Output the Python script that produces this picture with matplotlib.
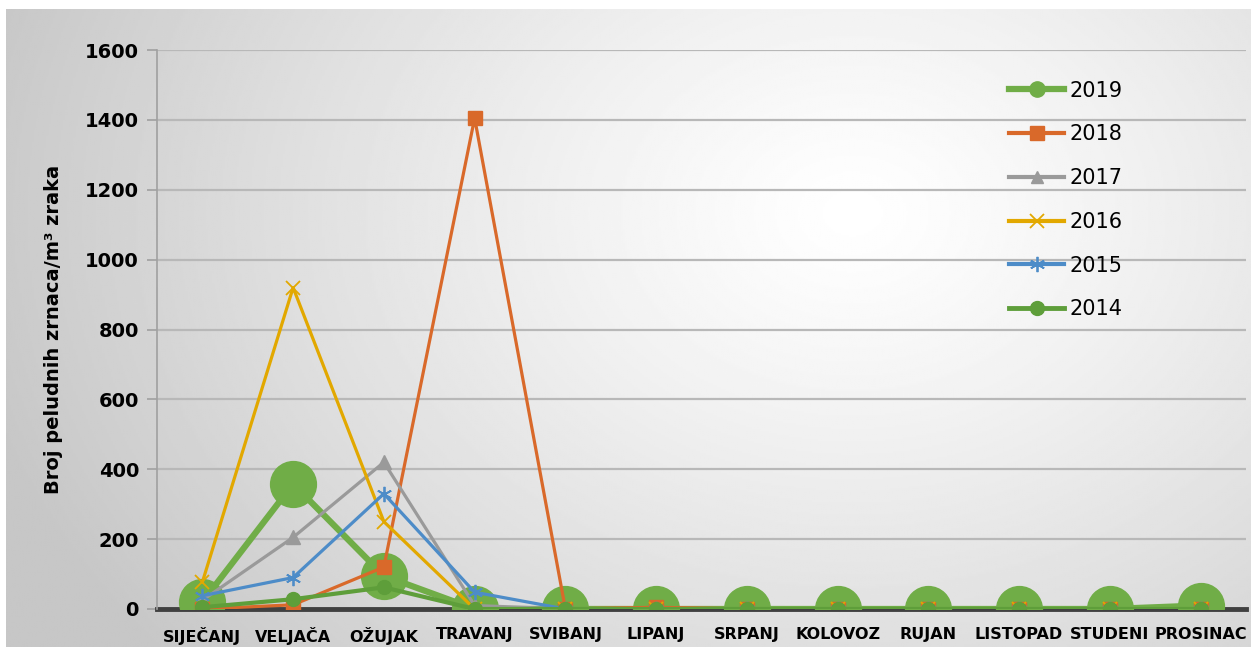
import numpy as np
import matplotlib.pyplot as plt
from matplotlib.lines import Line2D

months = ['SIJEČANJ', 'VELJAČA', 'OŽUJAK', 'TRAVANJ', 'SVIBANJ', 'LIPANJ',
          'SRPANJ', 'KOLOVOZ', 'RUJAN', 'LISTOPAD', 'STUDENI', 'PROSINAC']

y2019 = [20, 358, 95, 0, 0, 0, 0, 0, 0, 0, 0, 10]
y2018 = [0, 12, 120, 1405, 0, 5, 0, 0, 0, 0, 0, 0]
y2017 = [25, 205, 420, 10, 0, 0, 0, 0, 0, 0, 0, 0]
y2016 = [77, 920, 250, 0, 0, 0, 0, 0, 0, 0, 0, 0]
y2015 = [38, 90, 330, 48, 0, 0, 0, 0, 0, 0, 0, 0]
y2014 = [5, 28, 62, 0, 0, 0, 0, 0, 0, 0, 0, 0]

fig = plt.figure(figsize=(12.51, 6.47), dpi=100)
fig.patch.set_facecolor('white')

# radial grey-to-white backdrop
bg = fig.add_axes([6 / 1251, 0, 1 - 6 / 1251, 1 - 9 / 647], zorder=0)
gx, gy = np.meshgrid(np.linspace(0, 1, 600), np.linspace(0, 1, 320))
r = np.sqrt(((gx - 0.68) * 1.5) ** 2 + ((gy - 0.32) * 1.0) ** 2)
shade = np.clip(1.0 - 0.2 * r ** 1.2, 0.78, 1.0)
bg.imshow(shade, cmap='gray', vmin=0, vmax=1, aspect='auto', extent=[0, 1, 1, 0])
bg.axis('off')

ax = fig.add_axes([157 / 1251, 1 - 609 / 647, 1089 / 1251, 559 / 647], zorder=1)
ax.set_facecolor('none')
x = np.arange(len(months))

ax.plot(x, y2019, color='#70AD47', lw=4.5, marker='o', ms=33, zorder=3)
ax.plot(x, y2018, color='#D9692A', lw=2.3, marker='s', ms=10, zorder=4)
ax.plot(x, y2017, color='#9A9A9A', lw=2.3, marker='^', ms=10, zorder=5)
ax.plot(x, y2016, color='#E2A800', lw=2.3, marker='x', ms=10, mew=1.3, zorder=6)
ax.plot(x, y2015, color='#4D8CC8', lw=2.3, marker=(6, 2, 0), ms=11, mew=1.3, zorder=7)
ax.plot(x, y2014, color='#5E9E3A', lw=3, marker='o', ms=10, zorder=8)

ax.set_xlim(-0.5, 11.5)
ax.set_ylim(0, 1600)
ax.set_yticks(range(0, 1601, 200))
ax.set_xticks(x)
ax.set_xticklabels(months, fontsize=11.5, fontweight='bold')
for lbl in ax.get_yticklabels():
    lbl.set_fontsize(14)
    lbl.set_fontweight('bold')
ax.tick_params(axis='x', length=0, pad=13)
ax.tick_params(axis='y', length=7, width=1.2, color='#A0A0A0', pad=6)
ax.grid(axis='y', color='#B8B8B8', lw=1.6)
ax.set_axisbelow(True)
for side in ['top', 'right']:
    ax.spines[side].set_visible(False)
ax.spines['left'].set_color('#A0A0A0')
ax.spines['left'].set_linewidth(1.2)
ax.spines['bottom'].set_color('#404040')
ax.spines['bottom'].set_linewidth(3.5)
ax.spines['bottom'].set_zorder(2)
ax.set_ylabel('Broj peludnih zrnaca/m³ zraka', fontsize=14, fontweight='bold',
              labelpad=16)

handles = [
    Line2D([], [], color='#70AD47', lw=4.5, marker='o', ms=11),
    Line2D([], [], color='#D9692A', lw=3, marker='s', ms=10),
    Line2D([], [], color='#9A9A9A', lw=3, marker='^', ms=9),
    Line2D([], [], color='#E2A800', lw=3, marker='x', ms=10, mew=1.3),
    Line2D([], [], color='#4D8CC8', lw=3, marker=(6, 2, 0), ms=11, mew=1.3),
    Line2D([], [], color='#5E9E3A', lw=3.5, marker='o', ms=10),
]
ax.legend(handles, ['2019', '2018', '2017', '2016', '2015', '2014'],
          loc='upper left', bbox_to_anchor=(0.767, 0.975), frameon=False,
          fontsize=15, handlelength=2.65, labelspacing=1.14, handletextpad=0.25,
          numpoints=1, borderpad=0.3)

fig.savefig('out.png', dpi=100)
